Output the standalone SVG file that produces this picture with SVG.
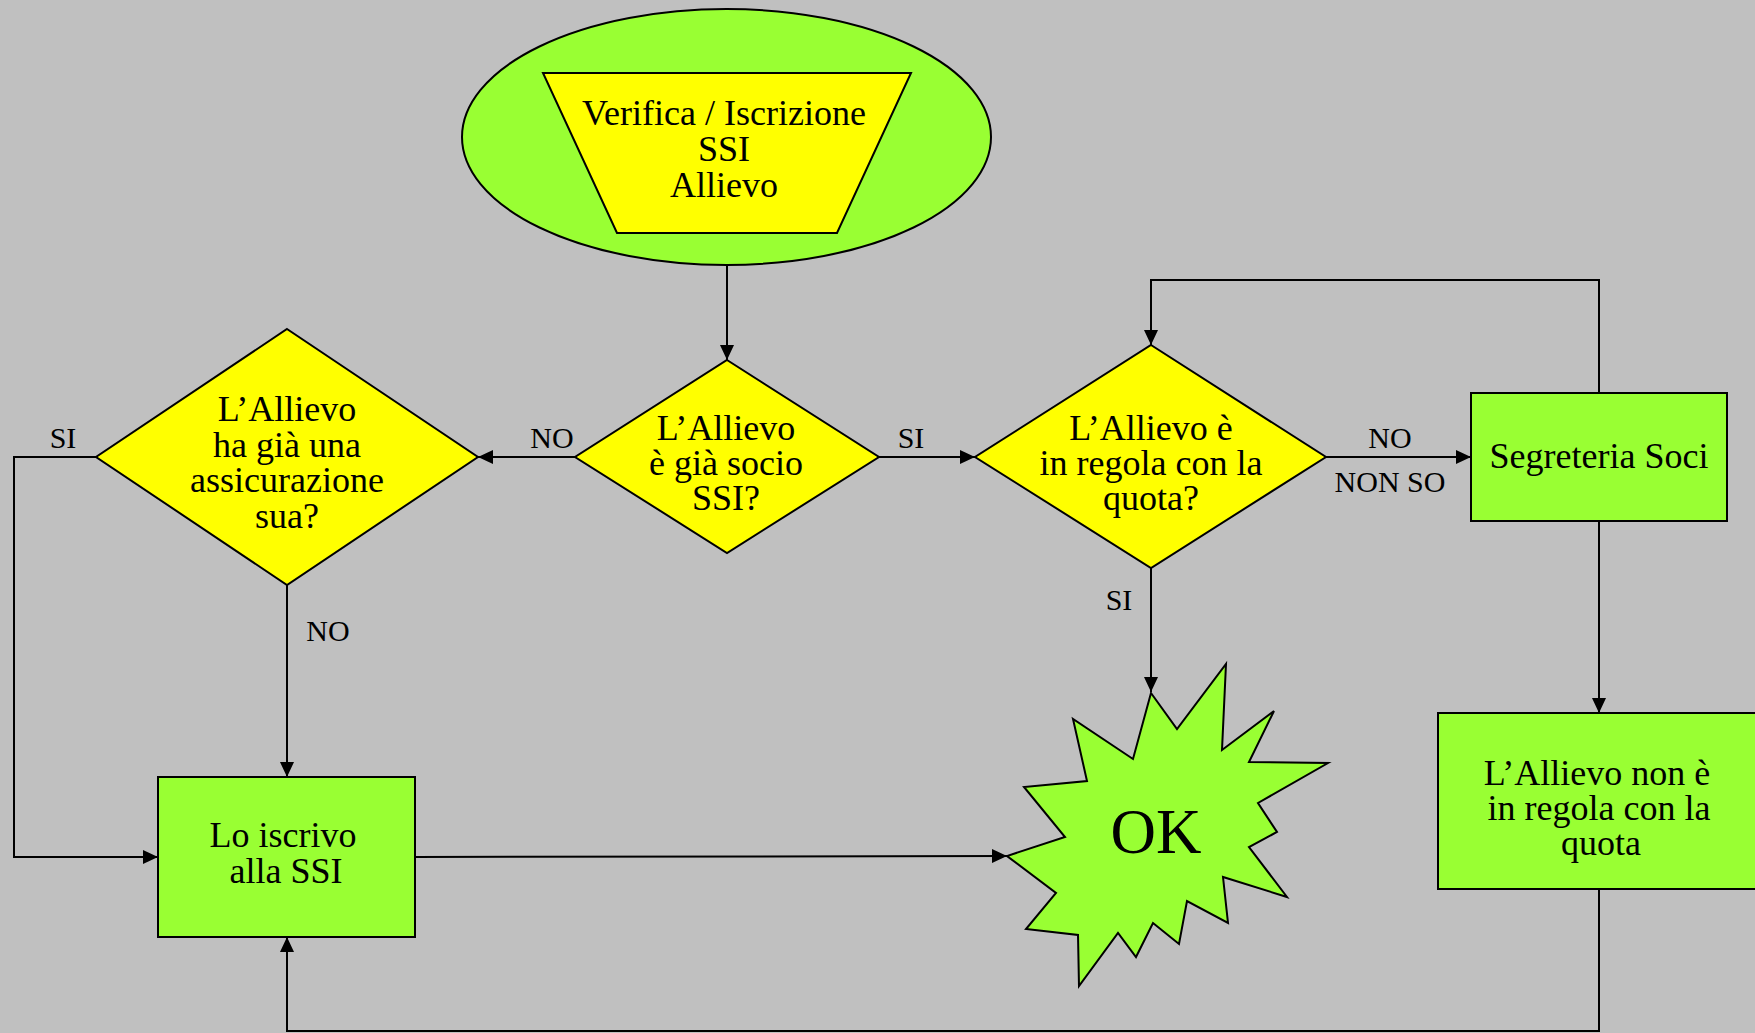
<svg xmlns="http://www.w3.org/2000/svg" width="1755" height="1033" viewBox="0 0 1755 1033">
<defs>
<marker id="arr" markerUnits="userSpaceOnUse" markerWidth="15" markerHeight="14" refX="15" refY="7" orient="auto">
<path d="M0,0 L15,7 L0,14 z" fill="#000"/>
</marker>
<style>
.bg{fill:#C0C0C0}
.green{fill:#99FF33;stroke:#000;stroke-width:2}
.yellow{fill:#FFFF00;stroke:#000;stroke-width:2}
.t{font-family:"Liberation Serif","Times New Roman",serif;font-size:36px;fill:#000;text-anchor:middle}
.lbl{font-family:"Liberation Serif","Times New Roman",serif;font-size:30px;fill:#000;text-anchor:middle}
.ok{font-family:"Liberation Serif","Times New Roman",serif;font-size:63px;fill:#000;text-anchor:middle}
.c{fill:none;stroke:#000;stroke-width:2;marker-end:url(#arr)}
</style>
</defs>
<rect class="bg" x="0" y="0" width="1755" height="1033"/>

<g id="connectors">
<path class="c" d="M727,265 L727,360"/>
<path class="c" d="M879,457 L975,457"/>
<path class="c" d="M575,457 L478,457"/>
<path class="c" d="M1326,457 L1471,457"/>
<path class="c" d="M1599,393 L1599,280 L1151,280 L1151,345"/>
<path class="c" d="M1151,568 L1151,692"/>
<path class="c" d="M1599,521 L1599,713"/>
<path class="c" d="M1599,889 L1599,1031 L287,1031 L287,937"/>
<path class="c" d="M96,457 L14,457 L14,857 L158,857"/>
<path class="c" d="M287,585 L287,777"/>
<path class="c" d="M415,857 L1007,856"/>
<text class="lbl" x="552" y="448">NO</text>
<text class="lbl" x="911" y="448">SI</text>
<text class="lbl" x="63" y="448">SI</text>
<text class="lbl" x="1390" y="448">NO</text>
<text class="lbl" x="1390" y="492">NON SO</text>
<text class="lbl" x="1119" y="610">SI</text>
<text class="lbl" x="328" y="641">NO</text>
</g>

<g id="start">
<ellipse class="green" cx="726.5" cy="137" rx="264.5" ry="128"/>
<polygon class="yellow" points="543,73 911,73 837,233 617,233"/>
<text class="t" x="724" y="125">Verifica / Iscrizione<tspan x="724" dy="36">SSI</tspan><tspan x="724" dy="36">Allievo</tspan></text>
</g>

<g id="d-socio">
<polygon class="yellow" points="727,360 879,457 727,553 575,457"/>
<text class="t" x="726" y="440">L’Allievo<tspan x="726" dy="35">è già socio</tspan><tspan x="726" dy="35">SSI?</tspan></text>
</g>

<g id="d-assicurazione">
<polygon class="yellow" points="287,329 478,457 287,585 96,457"/>
<text class="t" x="287" y="421">L’Allievo<tspan x="287" dy="36">ha già una</tspan><tspan x="287" dy="35">assicurazione</tspan><tspan x="287" dy="36">sua?</tspan></text>
</g>

<g id="d-quota">
<polygon class="yellow" points="1151,345 1326,457 1151,568 975,457"/>
<text class="t" x="1151" y="440">L’Allievo è<tspan x="1151" dy="35">in regola con la</tspan><tspan x="1151" dy="35">quota?</tspan></text>
</g>

<g id="segreteria">
<rect class="green" x="1471" y="393" width="256" height="128"/>
<text class="t" x="1599" y="468">Segreteria Soci</text>
</g>

<g id="non-in-regola">
<rect class="green" x="1438" y="713" width="322" height="176"/>
<text class="t" x="1597" y="785">L’Allievo non è<tspan x="1599" dy="35">in regola con la</tspan><tspan x="1601" dy="35">quota</tspan></text>
</g>

<g id="iscrivo">
<rect class="green" x="158" y="777" width="257" height="160"/>
<text class="t" x="283" y="847">Lo iscrivo<tspan x="286" dy="36">alla SSI</tspan></text>
</g>

<g id="ok">
<polygon class="green" points="1151,693 1177,729 1226,664 1222,750 1274,711 1249,762 1328,763 1258,803 1277,832 1249,847 1287,897 1223,877 1228,923 1187,901 1179,944 1153,923 1136,957 1118,933 1079,986 1078,935 1026,929 1056,893 1007,856 1065,837 1024,787 1087,781 1073,719 1133,759"/>
<text class="ok" x="1156" y="853">OK</text>
</g>
</svg>
